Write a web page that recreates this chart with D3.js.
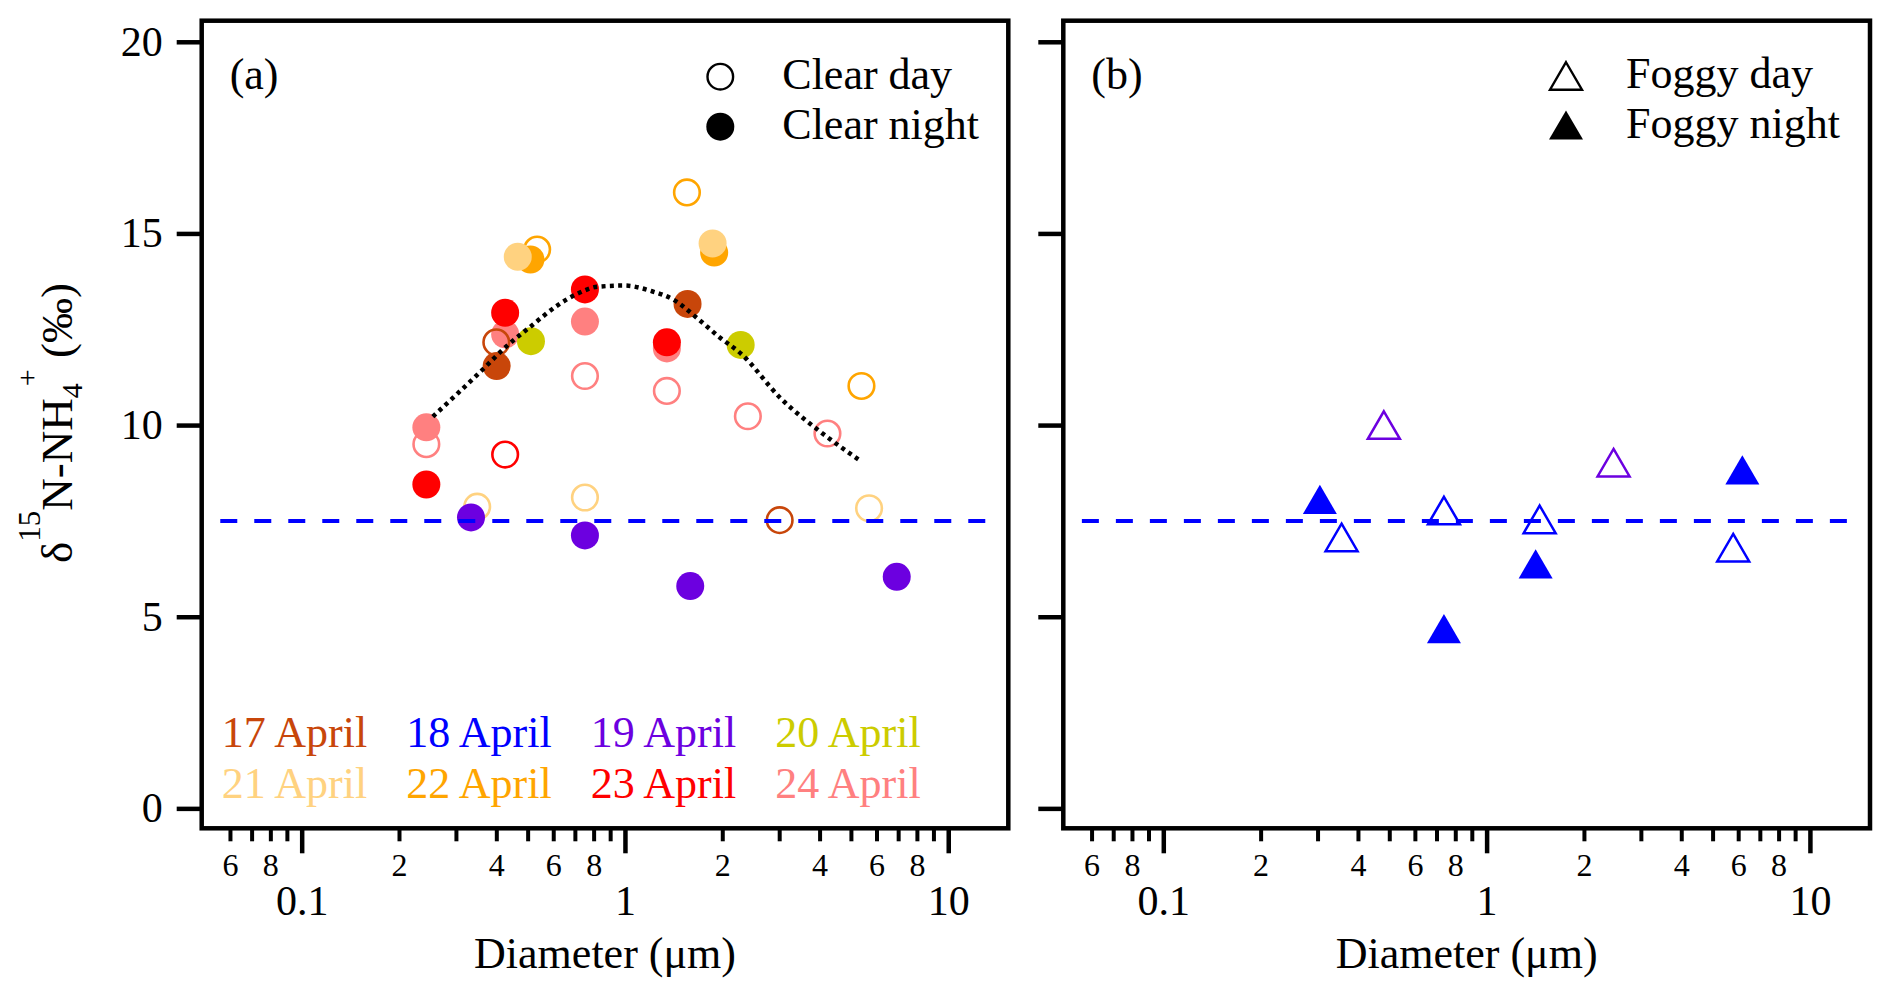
<!DOCTYPE html>
<html>
<head>
<meta charset="utf-8">
<script src="https://cdn.jsdelivr.net/npm/d3@7"></script>
<style>
  body { margin: 0; background: #fff; }
  text { font-family: "Liberation Serif", "Times New Roman", serif; fill: #000; }
</style>
</head>
<body>
<svg id="chart" width="1892" height="998"></svg>
<script>
// sampling dates and their colours
var dates = [17, 18, 19, 20, 21, 22, 23, 24];
var dateLabels = ["17 April", "18 April", "19 April", "20 April", "21 April", "22 April", "23 April", "24 April"];
var dateColors = ["#c8460a", "#0000ff", "#6c00e0", "#cccc00", "#ffd280", "#ffa500", "#ff0000", "#ff8080"];

// (a) clear day (open circles)
var clearDayDate  = [24, 24, 24, 24, 24, 23, 22, 22, 22, 21, 21, 21, 17, 17];
var clearDayDiam  = [0.243, 0.752, 1.348, 2.40, 4.23, 0.426, 0.535, 1.555, 5.39, 0.349, 0.752, 5.69, 0.40, 3.01];
var clearDayValue = [9.50, 11.28, 10.89, 10.23, 9.78, 9.23, 14.58, 16.07, 11.02, 7.87, 8.11, 7.83, 12.16, 7.52];

// (a) clear night (filled circles)
var clearNightDate  = [24, 24, 24, 24, 23, 23, 23, 23, 22, 22, 21, 21, 20, 20, 19, 19, 19, 19, 17, 17];
var clearNightDiam  = [0.243, 0.426, 0.752, 1.348, 0.243, 0.426, 0.752, 1.348, 0.51, 1.888, 0.466, 1.867, 0.512, 2.28, 0.334, 0.752, 1.592, 6.93, 0.401, 1.562];
var clearNightValue = [9.94, 12.37, 12.70, 12.00, 8.45, 12.93, 13.54, 12.16, 14.32, 14.50, 14.39, 14.74, 12.19, 12.09, 7.59, 7.12, 5.80, 6.04, 11.54, 13.16];

// (a) dotted fit
var fitDiam  = [0.2545, 0.304, 0.363, 0.428, 0.512, 0.62, 0.714, 0.823, 0.995, 1.203, 1.42, 1.678, 1.956, 2.28, 3.03, 4.03, 5.30];
var fitValue = [10.22, 10.83, 11.45, 12.04, 12.58, 13.13, 13.43, 13.61, 13.64, 13.50, 13.26, 12.78, 12.30, 11.87, 10.70, 9.82, 9.09];

// (b) foggy day (open triangles) and foggy night (filled triangles)
var foggyDayDate  = [18, 18, 18, 18, 19, 19];
var foggyDayDiam  = [0.356, 0.738, 1.459, 5.79, 0.481, 2.47];
var foggyDayValue = [7.07, 7.77, 7.54, 6.80, 10.0, 9.02];
var foggyNightDate  = [18, 18, 18, 18];
var foggyNightDiam  = [0.305, 0.738, 1.418, 6.18];
var foggyNightValue = [8.06, 4.69, 6.38, 8.83];

// blue dashed reference
var refDiam = [0.056, 13.2];
var refValue = 7.5;

// axes
var yTicks = [0, 5, 10, 15, 20];
var xMajorTicks = [0.1, 1, 10];
var xMinorTicks = [0.06, 0.07, 0.08, 0.09, 0.2, 0.3, 0.4, 0.5, 0.6, 0.7, 0.8, 0.9, 2, 3, 4, 5, 6, 7, 8, 9];
var xMinorLabelled = [0.06, 0.08, 0.2, 0.4, 0.6, 0.8, 2, 4, 6, 8];

var svg = d3.select("#chart");
var top_ = 20.7, bottom = 828.3;
var colorOf = d3.scaleOrdinal().domain(dates).range(dateColors);

// triangle centred on its bounding box
var triBox = {
    draw: function (ctx, size) {
        var w = size, h = size * 0.86;
        ctx.moveTo(0, -h / 2);
        ctx.lineTo(w / 2, h / 2);
        ctx.lineTo(-w / 2, h / 2);
        ctx.closePath();
    }
};

function makePanel(left, right, showYLabels) {
    var g = svg.append("g");
    var x = d3.scaleLog().domain([0.04906, 15.34]).range([left, right]);
    var y = d3.scaleLinear().domain([-0.52, 20.55]).range([bottom, top_]);

    // minor x ticks
    var minor = g.append("g")
        .attr("transform", `translate(0,${bottom})`)
        .call(d3.axisBottom(x).tickValues(xMinorTicks).tickSize(13)
            .tickFormat(function (d) {
                if (xMinorLabelled.indexOf(d) < 0) return "";
                return Math.round(d / Math.pow(10, Math.floor(Math.log10(d) + 1e-9)));
            }));
    minor.select(".domain").remove();
    minor.selectAll("line").attr("stroke", "#000").attr("stroke-width", 4);
    minor.selectAll("text").attr("y", 48).attr("dy", 0)
        .style("font-size", "32px").style("font-family", "Liberation Serif");

    // major x ticks
    var major = g.append("g")
        .attr("transform", `translate(0,${bottom})`)
        .call(d3.axisBottom(x).tickValues(xMajorTicks).tickSize(25).tickFormat(d => String(d)));
    major.select(".domain").remove();
    major.selectAll("line").attr("stroke", "#000").attr("stroke-width", 4.5);
    major.selectAll("text").attr("y", 87).attr("dy", 0)
        .style("font-size", "42px").style("font-family", "Liberation Serif");

    // y ticks
    var ya = g.append("g")
        .attr("transform", `translate(${left},0)`)
        .call(d3.axisLeft(y).tickValues(yTicks).tickSize(25).tickPadding(14)
            .tickFormat(showYLabels ? d3.format("d") : ""));
    ya.select(".domain").remove();
    ya.selectAll("line").attr("stroke", "#000").attr("stroke-width", 4.5);
    ya.selectAll("text").style("font-size", "42px").style("font-family", "Liberation Serif");

    g.append("text")
        .attr("x", (left + right) / 2)
        .attr("y", 968)
        .attr("text-anchor", "middle")
        .style("font-size", "44px")
        .text("Diameter (\u03bcm)");

    return { g: g, x: x, y: y, left: left, right: right };
}

var pa = makePanel(201.7, 1008.3, true);
var pb = makePanel(1063.3, 1870, false);

// ---- panel (a) points: per date (latest first), open then filled
var pointsA = [];
dates.slice().reverse().forEach(function (dt) {
    clearDayDate.forEach(function (d, i) {
        if (d == dt) pointsA.push({ date: d, diam: clearDayDiam[i], v: clearDayValue[i], open: true });
    });
    clearNightDate.forEach(function (d, i) {
        if (d == dt) pointsA.push({ date: d, diam: clearNightDiam[i], v: clearNightValue[i], open: false });
    });
});

pa.g.selectAll("circle.pt")
    .data(pointsA)
    .enter()
    .append("circle")
    .attr("class", "pt")
    .attr("cx", d => pa.x(d.diam))
    .attr("cy", d => pa.y(d.v))
    .attr("r", d => d.open ? 12.8 : 14)
    .attr("fill", d => d.open ? "none" : colorOf(d.date))
    .attr("stroke", d => d.open ? colorOf(d.date) : "none")
    .attr("stroke-width", 2.6);

var fitLine = d3.line()
    .x(d => pa.x(d[0]))
    .y(d => pa.y(d[1]))
    .curve(d3.curveMonotoneX);

pa.g.append("path")
    .datum(fitDiam.map((d, i) => [d, fitValue[i]]))
    .attr("d", fitLine)
    .attr("fill", "none")
    .attr("stroke", "#000")
    .attr("stroke-width", 4.5)
    .attr("stroke-dasharray", "4,4.3");

// ---- panel (b) points
var pointsB = [];
foggyDayDate.forEach(function (d, i) {
    pointsB.push({ date: d, diam: foggyDayDiam[i], v: foggyDayValue[i], open: true });
});
foggyNightDate.forEach(function (d, i) {
    pointsB.push({ date: d, diam: foggyNightDiam[i], v: foggyNightValue[i], open: false });
});

pb.g.selectAll("path.pt")
    .data(pointsB)
    .enter()
    .append("path")
    .attr("class", "pt")
    .attr("transform", d => `translate(${pb.x(d.diam)},${pb.y(d.v)})`)
    .attr("d", d => d3.symbol().type(triBox).size(d.open ? 32 : 34)())
    .attr("fill", d => d.open ? "none" : colorOf(d.date))
    .attr("stroke", d => d.open ? colorOf(d.date) : "none")
    .attr("stroke-width", 2.5);

// ---- dashed reference line and frames
[pa, pb].forEach(function (p) {
    p.g.append("line")
        .attr("x1", p.x(refDiam[0]))
        .attr("x2", p.x(refDiam[1]))
        .attr("y1", p.y(refValue))
        .attr("y2", p.y(refValue))
        .attr("stroke", "#0000ff")
        .attr("stroke-width", 4)
        .attr("stroke-dasharray", "17,17");

    p.g.append("rect")
        .attr("x", p.left)
        .attr("y", top_)
        .attr("width", p.right - p.left)
        .attr("height", bottom - top_)
        .attr("fill", "none")
        .attr("stroke", "#000")
        .attr("stroke-width", 4.5);
});

// panel letters
pa.g.append("text").attr("x", pa.left + 28).attr("y", 89).style("font-size", "44px").text("(a)");
pb.g.append("text").attr("x", pb.left + 28).attr("y", 89).style("font-size", "44px").text("(b)");

// legend (a)
var legA = [{ label: "Clear day", open: true }, { label: "Clear night", open: false }];
legA.forEach(function (d, i) {
    pa.g.append("circle")
        .attr("cx", pa.right - 288)
        .attr("cy", 76.7 + i * 50)
        .attr("r", d.open ? 12.8 : 14)
        .attr("fill", d.open ? "none" : "#000")
        .attr("stroke", d.open ? "#000" : "none")
        .attr("stroke-width", 2.4);
    pa.g.append("text")
        .attr("x", pa.right - 226)
        .attr("y", 89.3 + i * 50)
        .style("font-size", "44px")
        .text(d.label);
});

// legend (b)
var legB = [{ label: "Foggy day", open: true }, { label: "Foggy night", open: false }];
legB.forEach(function (d, i) {
    pb.g.append("path")
        .attr("transform", `translate(${pb.right - 304},${76 + i * 49})`)
        .attr("d", d3.symbol().type(triBox).size(d.open ? 32 : 34)())
        .attr("fill", d.open ? "none" : "#000")
        .attr("stroke", d.open ? "#000" : "none")
        .attr("stroke-width", 2.4);
    pb.g.append("text")
        .attr("x", pb.right - 244)
        .attr("y", 88.3 + i * 50)
        .style("font-size", "44px")
        .text(d.label);
});

// date colour key in (a)
pa.g.selectAll("text.date")
    .data(dateLabels)
    .enter()
    .append("text")
    .attr("class", "date")
    .attr("x", (d, i) => pa.left + 20 + (i % 4) * 184.5)
    .attr("y", (d, i) => i < 4 ? 747 : 798)
    .style("font-size", "44px")
    .style("fill", (d, i) => dateColors[i])
    .text(d => d);

// y axis title
var yt = svg.append("text")
    .attr("transform", "translate(72,423) rotate(-90)")
    .attr("text-anchor", "middle")
    .style("font-size", "45px");
yt.append("tspan").text("\u03b4");
yt.append("tspan").attr("dy", -32).style("font-size", "31px").text("15");
yt.append("tspan").attr("dy", 32).text("N-NH");
yt.append("tspan").attr("dy", 10).style("font-size", "30px").text("4");
yt.append("tspan").attr("dy", -45).attr("dx", -3).style("font-size", "30px").text("+");
yt.append("tspan").attr("dy", 35).text(" (\u2030)");
</script>
</body>
</html>
